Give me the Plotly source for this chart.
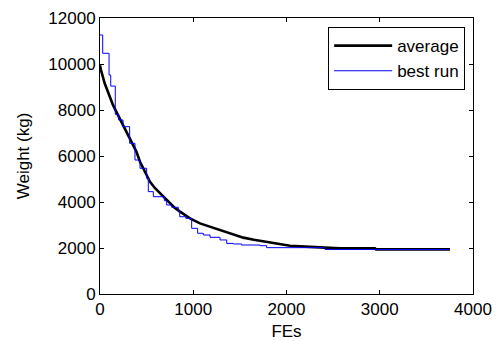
import plotly.graph_objects as go

avg_fe = [0, 10, 50, 86, 139, 193, 247, 318, 390, 429, 480, 536, 590, 643, 700, 751, 800, 858,
          910, 965, 1072, 1180, 1287, 1394, 1537, 1650, 1787, 1900, 2037, 2200, 2395, 2574,
          2949, 2960, 3753]
avg_w = [9950, 9750, 9160, 8800, 8220, 7780, 7350, 6770, 6190, 5750, 5300, 4880, 4600, 4380,
         4150, 3940, 3750, 3580, 3430, 3290, 3070, 2930, 2780, 2640, 2450, 2360, 2275, 2180,
         2100, 2060, 2030, 1985, 1985, 1940, 1940]

best_fe = [0, 29, 97, 115, 164, 200, 247, 318, 375, 429, 500, 518, 572, 690, 715, 769, 840,
           855, 920, 983, 1047, 1108, 1180, 1287, 1359, 1430, 1519, 1716, 1787, 2413, 3753]
best_w = [11260, 10465, 9520, 9040, 7810, 7565, 7275, 6550, 5825, 5465, 5030, 4450, 4230,
          4055, 3870, 3770, 3580, 3360, 3290, 2855, 2640, 2565, 2465, 2350, 2200, 2175, 2130,
          2100, 2015, 1935, 1935]

x_ticks = [0, 1000, 2000, 3000, 4000]
y_ticks = [0, 2000, 4000, 6000, 8000, 10000, 12000]

FONT = "Arial, Liberation Sans, sans-serif"

fig = go.Figure()
fig.add_trace(go.Scatter(x=avg_fe, y=avg_w, mode="lines", name="average",
                         line=dict(color="black", width=2.6)))
fig.add_trace(go.Scatter(x=best_fe, y=best_w, mode="lines", name="best run",
                         line=dict(color="#0000ff", width=1, shape="hv")))

axis_common = dict(showline=True, linecolor="black", linewidth=1, mirror="ticks",
                   ticks="inside", ticklen=4, tickcolor="black", showgrid=False,
                   zeroline=False, automargin=False,
                   tickfont=dict(family=FONT, size=17, color="black"))

fig.update_xaxes(range=[0, 4000], tickvals=x_ticks, ticktext=[str(v) for v in x_ticks],
                 title=dict(text="FEs", font=dict(family=FONT, size=17, color="black"), standoff=15),
                 **axis_common)
fig.update_yaxes(range=[0, 12000], tickvals=y_ticks, ticktext=[str(v) for v in y_ticks],
                 title=dict(text="Weight (kg)", font=dict(family=FONT, size=17, color="black"), standoff=14),
                 **axis_common)

fig.update_layout(
    width=497, height=341,
    margin=dict(l=100, r=24, t=18, b=47),
    paper_bgcolor="white", plot_bgcolor="white",
    font=dict(family=FONT, size=17, color="black"),
    legend=dict(x=0.979, y=0.967, xanchor="right", yanchor="top",
                bgcolor="white", bordercolor="black", borderwidth=1,
                font=dict(family=FONT, size=17, color="black"),
                tracegroupgap=0, itemwidth=58),
    showlegend=True,
)

fig.write_html("out.html")
